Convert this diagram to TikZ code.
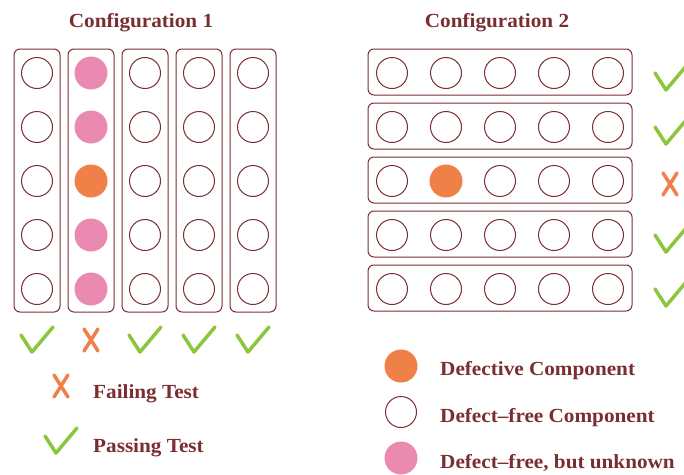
\documentclass[tikz,border=0pt]{standalone}
\usepackage{fontspec}
\setmainfont[FakeStretch=1.06]{Liberation Serif}
\definecolor{maroon}{HTML}{7A2E32}
\definecolor{defor}{HTML}{EE8048}
\definecolor{unkpink}{HTML}{EA8AB0}
\definecolor{okgreen}{HTML}{8CC63C}
\tikzset{
  comp/.style={circle, draw=maroon, line width=1pt, minimum size=31pt, inner sep=0pt, fill=white},
  defcomp/.style={circle, fill=defor, draw=none, minimum size=33pt, inner sep=0pt},
  unkcomp/.style={circle, fill=unkpink, draw=none, minimum size=33pt, inner sep=0pt},
  colbox/.style={draw=maroon, line width=1pt, rounded corners=6pt, minimum width=46pt, minimum height=263pt, inner sep=0pt},
  rowbox/.style={draw=maroon, line width=1pt, rounded corners=6pt, minimum width=264pt, minimum height=46pt, inner sep=0pt},
  title/.style={text=maroon, font=\bfseries\fontsize{20}{24}\selectfont, anchor=base},
  legtext/.style={text=maroon, font=\bfseries\fontsize{20}{24}\selectfont, anchor=base west, inner sep=0pt},
  okline/.style={draw=okgreen, line width=3.5pt, line cap=round, line join=round},
  failline/.style={draw=defor, line width=3.5pt, line cap=round},
  okmark/.pic={\path[okline] (-16,-5) -- (-5,12) -- (16,-13);},
  failmark/.pic={\path[failline] (-7,-11) -- (7,11) (7,-11) -- (-7,11);}
}
\begin{document}
\begin{tikzpicture}[x=1pt, y=-1pt]
\useasboundingbox (0,0) rectangle (684,474);
\clip (0,0) rectangle (684,474);
% titles
\node[title] (t1) at (141,27) {Configuration 1};
\node[title] (t2) at (497,27) {Configuration 2};
% configuration 1 columns
\foreach \c/\x in {1/37,2/91,3/145,4/199,5/253}{
  \node[colbox] (col\c) at (\x,180.5) {};
}
\foreach \c/\x in {1/37,3/145,4/199,5/253}{
  \foreach \r/\y in {1/73,2/127,3/181,4/235,5/289}{
    \node[comp] (a\c-\r) at (\x,\y) {};
  }
}
\foreach \r/\y in {1/73,2/127,4/235,5/289}{
  \node[unkcomp] (a2-\r) at (91,\y) {};
}
\node[defcomp] (a2-3) at (91,181) {};
% test results config 1
\pic at (37,340) {okmark};
\pic at (91,340) {failmark};
\pic at (145,340) {okmark};
\pic at (199,340) {okmark};
\pic at (253,340) {okmark};
% configuration 2 rows
\foreach \r/\y in {1/72,2/126,3/180,4/234,5/288}{
  \node[rowbox] (row\r) at (500,\y) {};
}
\foreach \r/\y in {1/73,2/127,3/181,4/235,5/289}{
  \foreach \c/\x in {1/392,3/500,4/554,5/608}{
    \node[comp] (b\r-\c) at (\x,\y) {};
  }
}
\foreach \r/\y in {1/73,2/127,4/235,5/289}{
  \node[comp] (b\r-2) at (446,\y) {};
}
\node[defcomp] (b3-2) at (446,181) {};
% test results config 2
\pic at (671,78) {okmark};
\pic at (671,132) {okmark};
\pic at (670,184) {failmark};
\pic at (671,240) {okmark};
\pic at (671,294) {okmark};
% legend left
\pic at (61,386) {failmark};
\node[legtext] (lfail) at (93,398) {Failing Test};
\pic at (61,441) {okmark};
\node[legtext] (lpass) at (93,452) {Passing Test};
% legend right
\node[defcomp] (ldef) at (401,366) {};
\node[legtext] (ldeft) at (440,375) {Defective Component};
\node[comp] (lfree) at (401,412) {};
\node[legtext] (lfreet) at (440,422) {Defect–free Component};
\node[unkcomp] (lunk) at (401,458) {};
\node[legtext] (lunkt) at (440,468) {Defect–free, but unknown};
\end{tikzpicture}
\end{document}
